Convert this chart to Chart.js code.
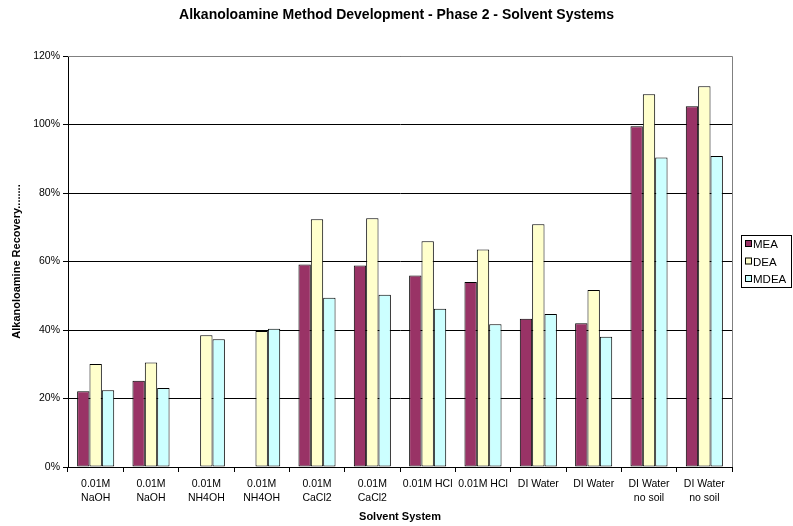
<!DOCTYPE html>
<html>
<head>
<meta charset="utf-8">
<script src="https://cdn.jsdelivr.net/npm/chart.js@4/dist/chart.umd.min.js"></script>
<style>
  html, body { margin: 0; padding: 0; background: #fff; }
  #wrap { width: 793px; height: 526px; }
</style>
</head>
<body>
<div id="wrap"><canvas id="chart" width="793" height="526"></canvas></div>
<script>
// categories (x axis labels)
const categories = [
  ["0.01M", "NaOH"], ["0.01M", "NaOH"],
  ["0.01M", "NH4OH"], ["0.01M", "NH4OH"],
  ["0.01M", "CaCl2"], ["0.01M", "CaCl2"],
  "0.01M HCl", "0.01M HCl",
  "DI Water", "DI Water",
  ["DI Water", "no soil"], ["DI Water", "no soil"]
];

// recovery values, percent
const meaValues  = [22.1, 25.2, null, null, 59.1, 58.8, 55.9, 54.0, 43.3, 42.0, 99.5, 105.3];
const deaValues  = [30.1, 30.5, 38.5, 39.7, 72.3, 72.6, 65.9, 63.5, 70.9, 51.7, 108.8, 111.2];
const mdeaValues = [22.4, 23.1, 37.3, 40.4, 49.4, 50.3, 46.2, 41.7, 44.7, 38.0, 90.4, 90.8];

const seriesNames = ["MEA", "DEA", "MDEA"];
const seriesColors = ["#993366", "#FFFFCC", "#CCFFFF"];

const fontFamily = "'Liberation Sans', Arial, sans-serif";

// rahmen um plotfläche + legende mit kasten
const frameAndLegend = {
  id: 'frameAndLegend',
  afterDraw(chart) {
    const ctx = chart.ctx;
    const a = chart.chartArea;
    ctx.save();
    ctx.strokeStyle = '#808080';
    ctx.lineWidth = 1;
    ctx.beginPath();
    ctx.moveTo(a.left, a.top + 0.5);
    ctx.lineTo(a.right + 0.5, a.top + 0.5);
    ctx.lineTo(a.right + 0.5, a.bottom);
    ctx.stroke();

    // legend box
    const lx = 741, ly = 235, lw = 51, lh = 53;
    ctx.fillStyle = '#fff';
    ctx.fillRect(lx, ly, lw, lh);
    ctx.strokeStyle = '#000';
    ctx.strokeRect(lx + 0.5, ly + 0.5, lw - 1, lh - 1);
    ctx.font = '11.5px ' + fontFamily;
    ctx.textBaseline = 'middle';
    seriesNames.forEach((name, i) => {
      const y = ly + 9 + i * 17.5;
      ctx.fillStyle = seriesColors[i];
      ctx.fillRect(lx + 4, y - 4, 7, 7);
      ctx.strokeStyle = '#000';
      ctx.strokeRect(lx + 4.5, y - 3.5, 6, 6);
      ctx.fillStyle = '#000';
      ctx.fillText(name, lx + 12, y + 1);
    });
    ctx.restore();
  }
};

const datasets = [meaValues, deaValues, mdeaValues].map((vals, i) => ({
  label: seriesNames[i],
  data: vals,
  backgroundColor: seriesColors[i],
  borderColor: '#000',
  borderWidth: 1,
  borderSkipped: false,
  categoryPercentage: 0.67,
  barPercentage: 1.0
}));

new Chart(document.getElementById('chart').getContext('2d'), {
  type: 'bar',
  data: { labels: categories, datasets: datasets },
  options: {
    responsive: false,
    animation: false,
    layout: { padding: 0 },
    plugins: {
      legend: { display: false },
      tooltip: { enabled: false },
      title: {
        display: true,
        text: 'Alkanoloamine Method Development - Phase 2 - Solvent Systems',
        color: '#000',
        font: { family: fontFamily, size: 14, weight: 'bold', lineHeight: 1.2 },
        padding: { top: 7, bottom: 32.2 }
      }
    },
    scales: {
      x: {
        grid: { display: true, drawOnChartArea: false, color: '#000', tickLength: 5, offset: true },
        border: { color: '#000' },
        ticks: {
          color: '#000', maxRotation: 0, autoSkip: false, padding: 6,
          font: { family: fontFamily, size: 10.5, lineHeight: 1.25 }
        },
        title: {
          display: true, text: 'Solvent System', color: '#000',
          font: { family: fontFamily, size: 11, weight: 'bold' },
          padding: { top: 4, bottom: 2 }
        },
        afterFit(scale) { scale.height = 59; }
      },
      y: {
        min: 0, max: 120,
        grid: { color: '#000', tickLength: 5 },
        border: { color: '#000' },
        ticks: {
          stepSize: 20, color: '#000', padding: 3,
          font: { family: fontFamily, size: 10.5 },
          callback: v => v + '%'
        },
        title: {
          display: true, text: 'Alkanoloamine Recovery........', color: '#000',
          font: { family: fontFamily, size: 11, weight: 'bold' },
          padding: { top: 10, bottom: 4 }
        },
        afterFit(scale) { scale.width = 68; }
      },
      // leerer platz rechts fuer die legende
      yRight: {
        position: 'right',
        grid: { display: false, drawTicks: false },
        border: { display: false },
        ticks: { display: false },
        afterFit(scale) { scale.width = 61; }
      }
    }
  },
  plugins: [frameAndLegend]
});
</script>
</body>
</html>
